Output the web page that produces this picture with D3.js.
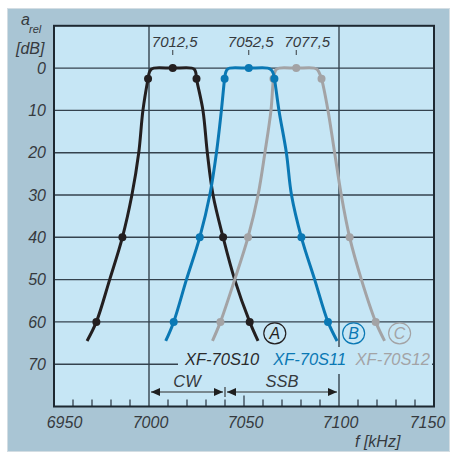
<!DOCTYPE html>
<html><head><meta charset="utf-8">
<script src="https://cdn.jsdelivr.net/npm/d3@7"></script>
<style>body{margin:0;background:#fff} svg{display:block}</style>
</head><body><svg id="c" width="453" height="453"></svg>
<script>
// ---------- data ----------
const xTicks = [6950, 7000, 7050, 7100, 7150];
const yTicks = [0, 10, 20, 30, 40, 50, 60, 70];
const centerLabels = ["7012,5", "7052,5", "7077,5"];
const centerFreqs = [7012.5, 7052.5, 7077.5];
const filterNames = ["XF-70S10", "XF-70S11", "XF-70S12"];
const filterLetters = ["A", "B", "C"];

// Filter A (XF-70S10)
const freqA = [6967.4, 6972.3, 6979.3, 6986.0, 6991.0, 6994.6, 6996.8, 6999.5, 7000.2, 7001.1, 7002.5, 7012.5, 7022.5, 7023.9, 7024.6, 7025.0, 7028.4, 7030.7, 7033.7, 7039.0, 7045.1, 7053.0, 7057.4];
const dbA   = [64.5, 60, 50, 40, 30, 20, 10, 2.5, 1, 0.3, 0, 0, 0, 0.3, 1, 2.5, 10, 20, 30, 40, 50, 60, 64.5];
// Filter B (XF-70S11)
const freqB = [7008.8, 7013.0, 7019.7, 7026.7, 7032.0, 7035.5, 7038.1, 7039.8, 7040.4, 7041.2, 7042.5, 7052.5, 7062.5, 7064.0, 7065.2, 7066.0, 7068.4, 7072.3, 7075.0, 7080.2, 7087.2, 7094.2, 7099.0];
const dbB   = [64.5, 60, 50, 40, 30, 20, 10, 2.5, 1, 0.3, 0, 0, 0, 0.3, 1, 2.5, 10, 20, 30, 40, 50, 60, 64.5];
// Filter C (XF-70S12)
const freqC = [7033.4, 7037.6, 7045.1, 7052.1, 7057.4, 7061.0, 7064.2, 7065.5, 7066.2, 7067.0, 7068.5, 7077.5, 7087.0, 7088.5, 7089.5, 7090.8, 7094.2, 7097.7, 7101.2, 7105.6, 7111.8, 7119.3, 7124.0];
const dbC   = [64.5, 60, 50, 40, 30, 20, 10, 2.5, 1, 0.3, 0, 0, 0, 0.3, 1, 2.5, 10, 20, 30, 40, 50, 60, 64.5];

// marked points
const markFreqA = [6972.3, 6986.0, 6999.5, 7012.5, 7025.0, 7039.0, 7053.0];
const markDbA   = [60, 40, 2.5, 0, 2.5, 40, 60];
const markFreqB = [7013.0, 7026.7, 7039.8, 7052.5, 7066.0, 7080.2, 7094.2];
const markDbB   = [60, 40, 2.5, 0, 2.5, 40, 60];
const markFreqC = [7037.6, 7052.1, 7065.5, 7077.5, 7090.8, 7105.6, 7119.3];
const markDbC   = [60, 40, 2.5, 0, 2.5, 40, 60];

// bands
const bandNames = ["CW", "SSB"];
const bandStart = [7000, 7040];
const bandEnd   = [7040, 7100];

// ---------- drawing ----------
const colA = "#231f20", colB = "#0a78b4", colC = "#a3a3a5";
const txt = "#363a3e";
const font = "'Liberation Sans', Arial, sans-serif";
const svg = d3.select("#c");

svg.append("rect").attr("x", 7.5).attr("y", 8.5).attr("width", 442).attr("height", 443)
  .attr("fill", "#a9c5d4").attr("stroke", "#d3dde3").attr("stroke-width", 1);

const x = d3.scaleLinear().domain([6950, 7150]).range([54, 434]);
const y = d3.scaleLinear().domain([-10, 80]).range([25.8, 406.5]);

svg.append("rect").attr("x", x(6950)).attr("y", y(-10)).attr("width", x(7150) - x(6950)).attr("height", y(80) - y(-10))
  .attr("fill", "#c6e6f5");

const gridCol = "#34424e";
// horizontal grid
svg.append("g").selectAll("line").data(yTicks).join("line")
  .attr("x1", x(6950)).attr("x2", x(7150)).attr("y1", d => y(d)).attr("y2", d => y(d))
  .attr("stroke", gridCol).attr("stroke-width", 1.4);
// vertical grid
svg.append("g").selectAll("line").data([7000, 7100]).join("line")
  .attr("x1", d => x(d)).attr("x2", d => x(d)).attr("y1", y(-10)).attr("y2", y(80))
  .attr("stroke", gridCol).attr("stroke-width", 1.4);

// label background box
svg.append("rect").attr("x", 178).attr("y", 347).attr("width", 254).attr("height", 27)
  .attr("fill", "#c6e6f5");

// bottom minor ticks
const minor = d3.range(6960, 7150, 10).filter(d => d !== 7000 && d !== 7100);
svg.append("g").selectAll("line").data(minor).join("line")
  .attr("x1", d => x(d)).attr("x2", d => x(d)).attr("y1", y(80))
  .attr("y2", d => y(80) - (d === 7050 ? 11 : 7))
  .attr("stroke", gridCol).attr("stroke-width", 1.3);

// frame
svg.append("rect").attr("x", x(6950)).attr("y", y(-10)).attr("width", x(7150) - x(6950)).attr("height", y(80) - y(-10))
  .attr("fill", "none").attr("stroke", "#1d2831").attr("stroke-width", 2);

// x axis labels
const xAxis = d3.axisBottom(x).tickValues(xTicks).tickSize(0).tickPadding(10).tickFormat(d3.format("d"));
const gx = svg.append("g").attr("transform", `translate(0,${y(80)})`).call(xAxis);
gx.select(".domain").remove();
gx.selectAll("text").attr("font-family", font).attr("font-style", "italic").attr("font-size", 16)
  .attr("fill", txt).attr("dx", d => d === 6950 ? 10 : d === 7150 ? -7 : 1);

// y axis labels
const yAxis = d3.axisLeft(y).tickValues(yTicks).tickSize(0).tickPadding(8);
const gy = svg.append("g").attr("transform", `translate(${x(6950)},0)`).call(yAxis);
gy.select(".domain").remove();
gy.selectAll("text").attr("font-family", font).attr("font-style", "italic").attr("font-size", 16).attr("fill", txt);

// y title
const yt = svg.append("text").attr("font-family", font).attr("font-style", "italic").attr("fill", txt);
yt.append("tspan").attr("x", 21).attr("y", 25).attr("font-size", 16).text("a");
yt.append("tspan").attr("x", 29).attr("y", 33).attr("font-size", 11).text("rel");
svg.append("text").attr("x", 16).attr("y", 54).attr("font-family", font).attr("font-style", "italic")
  .attr("font-size", 16).attr("fill", txt).text("[dB]");

// x title
svg.append("text").attr("x", 355).attr("y", 447).attr("font-family", font).attr("font-style", "italic")
  .attr("font-size", 16).attr("fill", txt).text("f [kHz]");

// center frequency labels
const cl = svg.append("g");
cl.selectAll("text").data(centerFreqs).join("text")
  .attr("x", d => x(d)).attr("y", 47).attr("dx", (d, i) => i === 2 ? 11 : 2)
  .attr("text-anchor", "middle").attr("font-family", font).attr("font-style", "italic")
  .attr("font-size", 15).attr("fill", txt).text((d, i) => centerLabels[i]);
cl.selectAll("line").data(centerFreqs).join("line")
  .attr("x1", d => x(d)).attr("x2", d => x(d)).attr("y1", 50).attr("y2", 55)
  .attr("stroke", txt).attr("stroke-width", 1);

// curves
const line = d3.line().x(d => x(d[0])).y(d => y(d[1])).curve(d3.curveCatmullRom.alpha(0.5));
const series = [
  {f: freqA, d: dbA, mf: markFreqA, md: markDbA, c: colA},
  {f: freqC, d: dbC, mf: markFreqC, md: markDbC, c: colC},
  {f: freqB, d: dbB, mf: markFreqB, md: markDbB, c: colB}
];
series.forEach(s => {
  const pts = s.f.map((f, i) => [f, s.d[i]]);
  svg.append("path").datum(pts).attr("d", line).attr("fill", "none")
    .attr("stroke", s.c).attr("stroke-width", 3).attr("stroke-linejoin", "round").attr("stroke-linecap", "butt");
  svg.append("g").selectAll("circle").data(s.mf.map((f, i) => [f, s.md[i]])).join("circle")
    .attr("cx", d => x(d[0])).attr("cy", d => y(d[1])).attr("r", 4).attr("fill", s.c);
});

// circled letters
const letterFreq = [7066.2, 7107.7, 7131.9];
const letterDb = 62.7;
const letterCols = [colA, colB, colC];
filterLetters.forEach((L, i) => {
  svg.append("ellipse").attr("cx", x(letterFreq[i])).attr("cy", y(letterDb)).attr("rx", 11).attr("ry", 10.5)
    .attr("fill", "none").attr("stroke", letterCols[i]).attr("stroke-width", 1.2);
  svg.append("text").attr("x", x(letterFreq[i])).attr("y", y(letterDb) + 6)
    .attr("text-anchor", "middle").attr("font-family", font).attr("font-style", "italic")
    .attr("font-size", 16).attr("fill", letterCols[i]).text(L);
});

// filter names
const nameFreq = [7038.5, 7084.6, 7128.3];
const nameCols = ["#2b2b2b", colB, colC];
filterNames.forEach((n, i) => {
  svg.append("text").attr("x", x(nameFreq[i])).attr("y", 365).attr("text-anchor", "middle")
    .attr("font-family", font).attr("font-style", "italic").attr("font-size", 16.5)
    .attr("fill", nameCols[i]).text(n);
});

// bands with arrows
const ay = 392;
bandNames.forEach((b, i) => {
  const x1 = x(bandStart[i]) + 2, x2 = x(bandEnd[i]) - 2;
  svg.append("line").attr("x1", x1).attr("x2", x2).attr("y1", ay).attr("y2", ay)
    .attr("stroke", "#2b2b2b").attr("stroke-width", 1.1);
  svg.append("path").attr("d", `M${x1},${ay} l9,-4 l0,8 z M${x2},${ay} l-9,-4 l0,8 z`).attr("fill", "#1f1f1f");
  svg.append("text").attr("x", (x1 + x2) / 2).attr("y", 387).attr("text-anchor", "middle")
    .attr("font-family", font).attr("font-style", "italic").attr("font-size", 16.5)
    .attr("fill", txt).text(b);
});
svg.append("line").attr("x1", x(7040)).attr("x2", x(7040)).attr("y1", 387).attr("y2", 397)
  .attr("stroke", "#2b2b2b").attr("stroke-width", 1.1);
</script></body></html>
